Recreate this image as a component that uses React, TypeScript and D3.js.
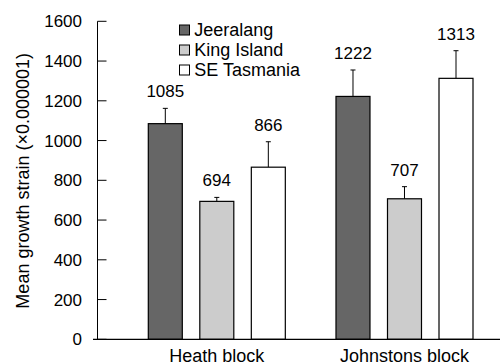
import React from 'react';
import * as d3 from 'd3';

// ── Data ──────────────────────────────────────────────────────────────────────
const blocks = ['Heath block', 'Johnstons block'];
const provenances = ['Jeeralang', 'King Island', 'SE Tasmania'];
const provColors = ['#666666', '#cccccc', '#ffffff'];

// mean growth strain per block, one array per provenance
const jeeralangMean = [1085, 1222];
const kingIslandMean = [694, 707];
const seTasmaniaMean = [866, 1313];

// upper end of the error bar (mean + SE)
const jeeralangUpper = [1162, 1355];
const kingIslandUpper = [714, 768];
const seTasmaniaUpper = [994, 1452];

const yTicks = [0, 200, 400, 600, 800, 1000, 1200, 1400, 1600];

const means = [jeeralangMean, kingIslandMean, seTasmaniaMean];
const uppers = [jeeralangUpper, kingIslandUpper, seTasmaniaUpper];

// ── Layout ────────────────────────────────────────────────────────────────────
const W = 502;
const H = 364;
const AXIS_X = 97.5;
const Y_TOP = 21.3;
const Y_BOTTOM = 339.3;
const FONT = '"Liberation Sans", Arial, Helvetica, sans-serif';

export default function App() {
  const y = d3.scaleLinear().domain([0, 1600]).range([Y_BOTTOM, Y_TOP]);

  const x0 = d3
    .scaleBand<string>()
    .domain(blocks)
    .range([148.3, 473])
    .paddingInner(0.27)
    .paddingOuter(0);

  const x1 = d3
    .scaleBand<string>()
    .domain(provenances)
    .range([0, x0.bandwidth()])
    .paddingInner(0.34)
    .paddingOuter(0);

  const bw = x1.bandwidth();

  return (
    <svg
      width={W}
      height={H}
      style={{ position: 'absolute', left: 0, top: 0, background: '#fff' }}
      fontFamily={FONT}
    >
      {/* Bars + error bars + value labels */}
      {blocks.map((b, bi) =>
        provenances.map((p, pi) => {
          const bx = (x0(b) ?? 0) + (x1(p) ?? 0);
          const cx = bx + bw / 2;
          const v = means[pi][bi];
          const up = uppers[pi][bi];
          return (
            <g key={b + p}>
              <line x1={cx} x2={cx} y1={y(v)} y2={y(up)} stroke="#000" strokeWidth={1} />
              <line x1={cx - 2.5} x2={cx + 2.5} y1={y(up)} y2={y(up)} stroke="#000" strokeWidth={1} />
              <rect
                x={bx}
                y={y(v)}
                width={bw}
                height={Y_BOTTOM - y(v)}
                fill={provColors[pi]}
                stroke="#000"
                strokeWidth={1.2}
              />
              <text x={cx} y={y(up) - 11} textAnchor="middle" fontSize={17} fill="#000">
                {v}
              </text>
            </g>
          );
        }),
      )}

      {/* Y axis with inward ticks */}
      <line x1={AXIS_X} x2={AXIS_X} y1={Y_TOP} y2={Y_BOTTOM} stroke="#000" strokeWidth={1} />
      {yTicks.map((t) => (
        <g key={t}>
          <line x1={AXIS_X} x2={AXIS_X + 9} y1={y(t)} y2={y(t)} stroke="#000" strokeWidth={1} />
          <text x={82} y={y(t)} dy="0.35em" textAnchor="end" fontSize={17} fill="#000">
            {t}
          </text>
        </g>
      ))}

      {/* X axis baseline */}
      <line x1={93} x2={500} y1={Y_BOTTOM} y2={Y_BOTTOM} stroke="#000" strokeWidth={1.2} />
      {blocks.map((b) => (
        <text
          key={b}
          x={(x0(b) ?? 0) + x0.bandwidth() / 2}
          y={362}
          textAnchor="middle"
          fontSize={18}
          fill="#000"
        >
          {b}
        </text>
      ))}

      {/* Y axis title */}
      <text
        transform={`translate(28.5, ${(Y_TOP + Y_BOTTOM) / 2 + 0.5}) rotate(-90)`}
        textAnchor="middle"
        fontSize={18}
        fill="#000"
      >
        Mean growth strain (×0.000001)
      </text>

      {/* Legend */}
      {provenances.map((p, i) => (
        <g key={p} transform={`translate(179.5, ${25 + i * 20})`}>
          <rect x={0} y={0} width={10} height={10} fill={provColors[i]} stroke="#000" strokeWidth={1} />
          <text x={14.8} y={11} fontSize={18} fill="#000">
            {p}
          </text>
        </g>
      ))}
    </svg>
  );
}
